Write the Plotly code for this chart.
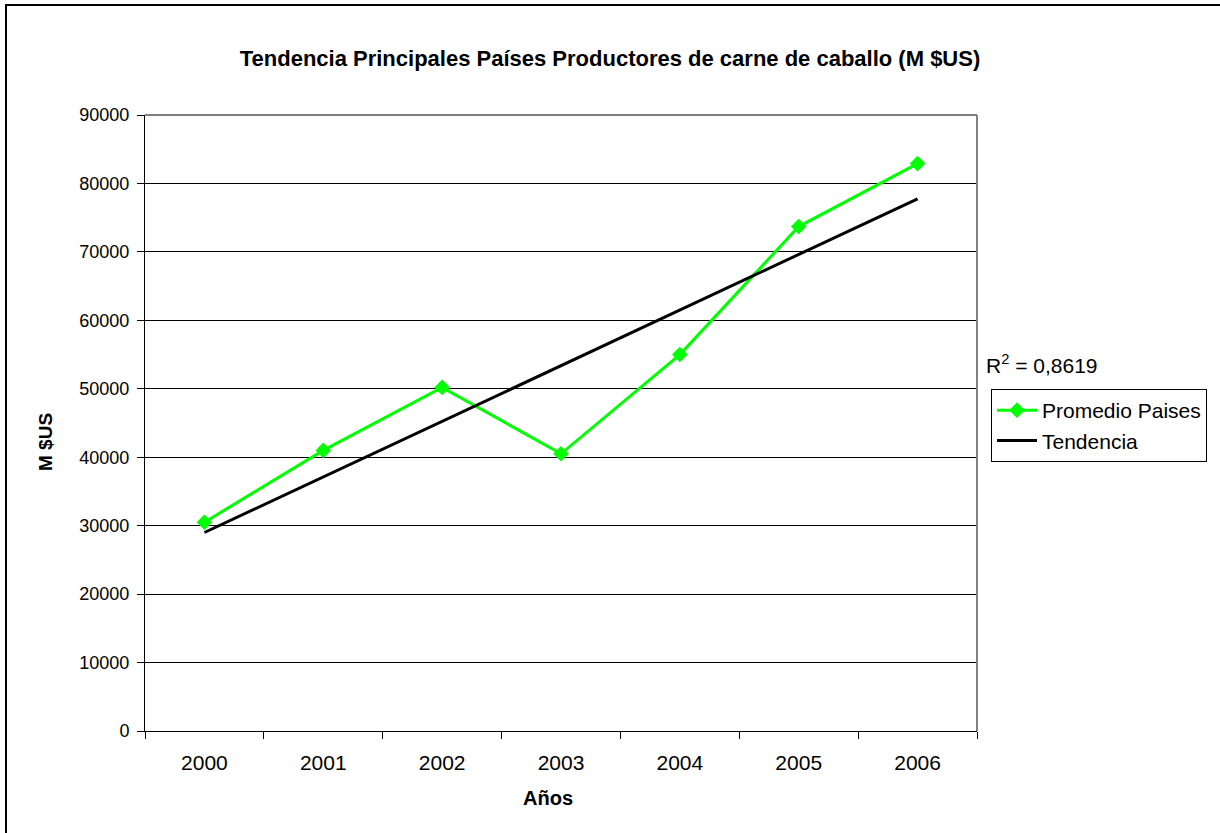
import plotly.graph_objects as go

# values
years = ['2000', '2001', '2002', '2003', '2004', '2005', '2006']
promedio = [30500, 41000, 50200, 40500, 55000, 73700, 82900]
tend_years = ['2000', '2006']
tendencia = [29000, 77750]
r2_text = 'R<sup>2</sup> = 0,8619'

font = 'Liberation Sans, Arial, sans-serif'

W, H = 1220, 833
L, T, PW, PH = 145, 115, 832, 616

fig = go.Figure()
fig.add_trace(go.Scatter(x=years, y=promedio, mode='lines+markers', name='Promedio Paises',
                         line=dict(color='#00FF00', width=3),
                         marker=dict(symbol='diamond', size=12, color='#00FF00')))
fig.add_trace(go.Scatter(x=tend_years, y=tendencia, mode='lines', name='Tendencia',
                         line=dict(color='black', width=3)))

fig.update_layout(
    width=W, height=H,
    margin=dict(l=L, r=W - L - PW, t=T, b=H - T - PH),
    paper_bgcolor='white', plot_bgcolor='white',
    font=dict(family=font, size=18, color='black'),
    title=dict(text='<b>Tendencia Principales Países Productores de carne de caballo (M $US)</b>',
               x=0.5, xref='container', xanchor='center',
               y=1 - 58 / H, yref='container', yanchor='middle',
               font=dict(family=font, size=22, color='black')),
    showlegend=True,
    legend=dict(x=(991 - 145) / PW, y=(731 - 389) / PH, xanchor='left', yanchor='top',
                bordercolor='black', borderwidth=1, bgcolor='white',
                font=dict(family=font, size=21), tracegroupgap=0,
                itemwidth=40),
)

fig.update_xaxes(type='category', range=[-0.5, 6.5], tickson='boundaries',
                 showgrid=False, showline=True, linecolor='black', linewidth=1,
                 ticks='outside', ticklen=7, tickcolor='black', tickwidth=1,
                 ticklabelstandoff=13, zeroline=False,
                 tickfont=dict(family=font, size=21))
fig.update_yaxes(range=[0, 90000], dtick=10000, showgrid=True, gridcolor='black', gridwidth=1,
                 showline=True, linecolor='black', linewidth=1, zeroline=False,
                 ticks='outside', ticklen=7, tickcolor='black', tickwidth=1,
                 ticklabelstandoff=4, tickformat='d',
                 tickfont=dict(family=font, size=18))

# gray plot-area border (top and right)
fig.add_shape(type='line', xref='paper', yref='paper', x0=0, x1=1, y0=1, y1=1,
              line=dict(color='#808080', width=2))
fig.add_shape(type='line', xref='paper', yref='paper', x0=1, x1=1, y0=0, y1=1,
              line=dict(color='#808080', width=2))
# outer chart border
fig.add_shape(type='rect', xref='paper', yref='paper',
              x0=(6 - L) / PW, x1=2, y0=-1, y1=(T + PH - 5) / PH,
              line=dict(color='black', width=2))

fig.add_annotation(text=r2_text, xref='paper', yref='paper',
                   x=(984 - L) / PW, y=(731 - 364) / PH, xanchor='left', yanchor='middle',
                   showarrow=False, font=dict(family=font, size=21))
fig.add_annotation(text='<b>M $US</b>', xref='paper', yref='paper', textangle=-90,
                   x=(45 - L) / PW, y=(731 - 442) / PH, xanchor='center', yanchor='middle',
                   showarrow=False, font=dict(family=font, size=19))
fig.add_annotation(text='<b>Años</b>', xref='paper', yref='paper',
                   x=(548 - L) / PW, y=(731 - 798) / PH, xanchor='center', yanchor='middle',
                   showarrow=False, font=dict(family=font, size=20))

# drop the page's default body margin so the figure starts at the window corner
fig.write_html('out.html', config={'displayModeBar': False},
               post_script="document.body.style.margin='0px';")
